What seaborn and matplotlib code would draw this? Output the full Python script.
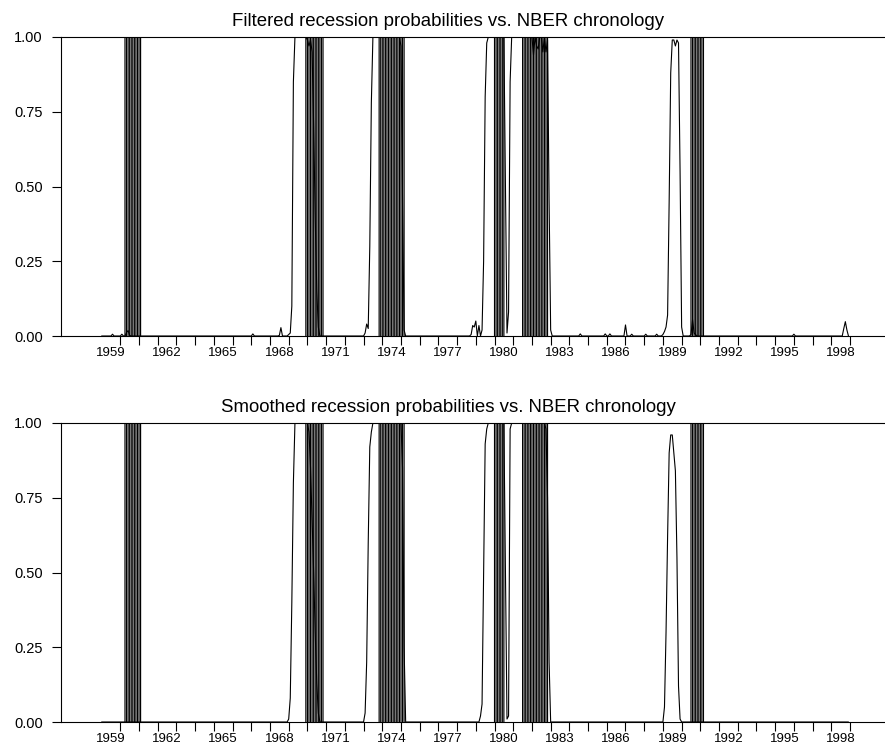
import numpy as np
import pandas as pd
import matplotlib
matplotlib.use("Agg")
import matplotlib.pyplot as plt
import seaborn as sns

# ---------------- data (monthly, Jan 1959 - Dec 1998) ----------------
start_year = 1959
n_years = 40

# Filtered recession probabilities, one row per year (Jan..Dec)
filtered_rows = [
    [0, 0, 0, 0, 0, 0, 0, .006, 0, 0, 0, 0],                 # 1959
    [0, .006, 0, 0, .012, .018, .002, 0, 0, 0, 0, 0],         # 1960
    [0] * 12,                                                 # 1961
    [0] * 12,                                                 # 1962
    [0] * 12,                                                 # 1963
    [0] * 12,                                                 # 1964
    [0] * 12,                                                 # 1965
    [0] * 12,                                                 # 1966
    [0, .007, 0, 0, 0, 0, 0, 0, 0, 0, 0, 0],                  # 1967
    [0, 0, 0, 0, 0, 0, .002, .028, 0, 0, 0, 0],               # 1968
    [.005, .01, .1, .85, 1, 1, 1, 1, 1, 1, 1, 1],             # 1969
    [.99, .97, .99, .95, .7, .4, .15, .03, 0, 0, 0, 0],       # 1970
    [0] * 12,                                                 # 1971
    [0] * 12,                                                 # 1972
    [0, .01, .04, .025, .3, .78, 1, 1, 1, 1, 1, 1],           # 1973
    [1, 1, 1, 1, 1, 1, 1, 1, 1, 1, 1, 1],                     # 1974
    [.97, .45, .02, 0, 0, 0, 0, 0, 0, 0, 0, 0],               # 1975
    [0] * 12,                                                 # 1976
    [0] * 12,                                                 # 1977
    [0, 0, 0, 0, 0, 0, 0, 0, 0, .005, .035, .03],             # 1978
    [.05, 0, .035, 0, .02, .25, .8, .98, 1, 1, 1, 1],         # 1979
    [1, 1, 1, 1, 1, 1, 1, .5, .01, .08, .85, 1],              # 1980
    [1, 1, 1, 1, 1, 1, 1, 1, 1, 1, 1, 1],                     # 1981
    [1, .94, 1, .97, .96, 1, 1, .95, 1, .95, .99, .45],       # 1982
    [.02, 0, 0, 0, 0, 0, 0, 0, 0, 0, 0, 0],                   # 1983
    [0, 0, 0, 0, 0, 0, 0, .007, 0, 0, 0, 0],                  # 1984
    [0, 0, 0, 0, 0, 0, 0, 0, 0, 0, 0, .007],                  # 1985
    [0, 0, .007, 0, 0, 0, 0, 0, 0, 0, 0, 0],                  # 1986
    [.037, 0, 0, 0, .006, 0, 0, 0, 0, 0, 0, 0],               # 1987
    [0, .006, 0, 0, 0, 0, 0, 0, .006, 0, 0, 0],               # 1988
    [.005, .015, .03, .07, .45, .88, .99, .99, .97, .99, .98, .55],  # 1989
    [.03, 0, 0, 0, 0, 0, .005, .055, .01, .004, 0, 0],        # 1990
    [0] * 12,                                                 # 1991
    [0] * 12,                                                 # 1992
    [0] * 12,                                                 # 1993
    [0] * 12,                                                 # 1994
    [0] * 12,                                                 # 1995
    [.006, 0, 0, 0, 0, 0, 0, 0, 0, 0, 0, 0],                  # 1996
    [0] * 12,                                                 # 1997
    [0, 0, 0, 0, 0, 0, 0, 0, .025, .048, .02, 0],             # 1998
]

# Smoothed recession probabilities, one row per year (Jan..Dec)
smoothed_rows = [
    [0] * 12,                                                 # 1959
    [0] * 12,                                                 # 1960
    [0] * 12,                                                 # 1961
    [0] * 12,                                                 # 1962
    [0] * 12,                                                 # 1963
    [0] * 12,                                                 # 1964
    [0] * 12,                                                 # 1965
    [0] * 12,                                                 # 1966
    [0] * 12,                                                 # 1967
    [0] * 12,                                                 # 1968
    [.01, .08, .4, .8, 1, 1, 1, 1, 1, 1, 1, 1],               # 1969
    [1, .97, .85, .68, .5, .3, .13, .03, 0, 0, 0, 0],         # 1970
    [0] * 12,                                                 # 1971
    [0] * 12,                                                 # 1972
    [0, .03, .2, .6, .92, .97, 1, 1, 1, 1, 1, 1],             # 1973
    [1, 1, 1, 1, 1, 1, 1, 1, 1, 1, 1, 1],                     # 1974
    [1, .85, .25, 0, 0, 0, 0, 0, 0, 0, 0, 0],                 # 1975
    [0] * 12,                                                 # 1976
    [0] * 12,                                                 # 1977
    [0] * 12,                                                 # 1978
    [0, 0, 0, .02, .06, .5, .93, .98, 1, 1, 1, 1],            # 1979
    [1, 1, 1, 1, 1, 1, 1, .5, .01, .02, .98, 1],              # 1980
    [1, 1, 1, 1, 1, 1, 1, 1, 1, 1, 1, 1],                     # 1981
    [1, 1, 1, 1, 1, 1, 1, 1, 1, .98, .75, .2],                # 1982
    [0] * 12,                                                 # 1983
    [0] * 12,                                                 # 1984
    [0] * 12,                                                 # 1985
    [0] * 12,                                                 # 1986
    [0] * 12,                                                 # 1987
    [0] * 12,                                                 # 1988
    [0, .05, .3, .62, .9, .96, .96, .9, .84, .55, .12, .01],  # 1989
    [0] * 12,                                                 # 1990
    [0] * 12,                                                 # 1991
    [0] * 12,                                                 # 1992
    [0] * 12,                                                 # 1993
    [0] * 12,                                                 # 1994
    [0] * 12,                                                 # 1995
    [0] * 12,                                                 # 1996
    [0] * 12,                                                 # 1997
    [0] * 12,                                                 # 1998
]

# NBER chronology (peak month, trough month)
nber_peaks = [(1960, 4), (1969, 12), (1973, 11), (1980, 1), (1981, 7), (1990, 7)]
nber_troughs = [(1961, 2), (1970, 11), (1975, 3), (1980, 7), (1982, 11), (1991, 3)]

titles = ["Filtered recession probabilities vs. NBER chronology",
          "Smoothed recession probabilities vs. NBER chronology"]
year_labels = [str(y) for y in range(1959, 1999, 3)]
y_ticks = [0, 0.25, 0.5, 0.75, 1.0]
y_ticklabels = ["0.00", "0.25", "0.50", "0.75", "1.00"]

# ---------------- build frame ----------------
dates = start_year + np.arange(n_years * 12) / 12.0
df = pd.DataFrame({
    "date": dates,
    "filtered": np.concatenate([np.array(r, float) for r in filtered_rows]),
    "smoothed": np.concatenate([np.array(r, float) for r in smoothed_rows]),
})

rec_months = []
for (py, pm), (ty, tm) in zip(nber_peaks, nber_troughs):
    a = py * 12 + (pm - 1)
    b = ty * 12 + (tm - 1)
    rec_months.extend([m / 12.0 for m in range(a, b + 1)])
rec_months = np.array(rec_months)

# ---------------- plot ----------------
sns.set_theme(style="white")
plt.rcParams['font.family'] = ['Liberation Sans', 'DejaVu Sans']

W, H = 885, 749
fig = plt.figure(figsize=(W / 100, H / 100), dpi=100)

ax_left = 61
ax_right = 891
panels = [(37, 336), (423, 722)]
title_y = [22, 408]
title_x = 448

for i, (col, (top, bot)) in enumerate(zip(["filtered", "smoothed"], panels)):
    ax = fig.add_axes([ax_left / W, (H - bot) / H, (ax_right - ax_left) / W, (bot - top) / H])
    lc = ax.vlines(rec_months, 0, 1, colors="black", linewidth=0.85)
    lc.set_snap(False)
    lc.set_antialiased(True)
    sns.lineplot(data=df, x="date", y=col, ax=ax, color="black", linewidth=0.8,
                 estimator=None)
    ax.set_xlim(1956.83, 2001.19)
    ax.set_ylim(0, 1)
    ax.set_xlabel("")
    ax.set_ylabel("")
    for s in ["left", "top", "bottom"]:
        ax.spines[s].set_visible(True)
        ax.spines[s].set_color("black")
        ax.spines[s].set_linewidth(0.8)
    ax.spines["right"].set_visible(False)

    ax.set_yticks(y_ticks)
    ax.set_yticklabels(y_ticklabels)
    ax.set_xticks(np.arange(1960, 2000))
    ax.set_xticklabels([])
    ax.set_xticks([int(l) + 0.5 for l in year_labels], minor=True)
    ax.set_xticklabels(year_labels, minor=True)
    ax.tick_params(axis="both", which="major", direction="out", length=6.5,
                   width=0.8, color="black", bottom=True, left=True,
                   labelcolor="black", pad=6.5)
    ax.tick_params(axis="y", which="major", labelsize=10.5)
    ax.tick_params(axis="x", which="minor", length=0, bottom=True,
                   labelsize=9.5, labelcolor="black", pad=8)
    ax.grid(False)
    fig.text(title_x / W, 1 - title_y[i] / H, titles[i], ha="center", va="center",
             fontsize=13.4, color="black")

fig.savefig("out.png", dpi=100)
